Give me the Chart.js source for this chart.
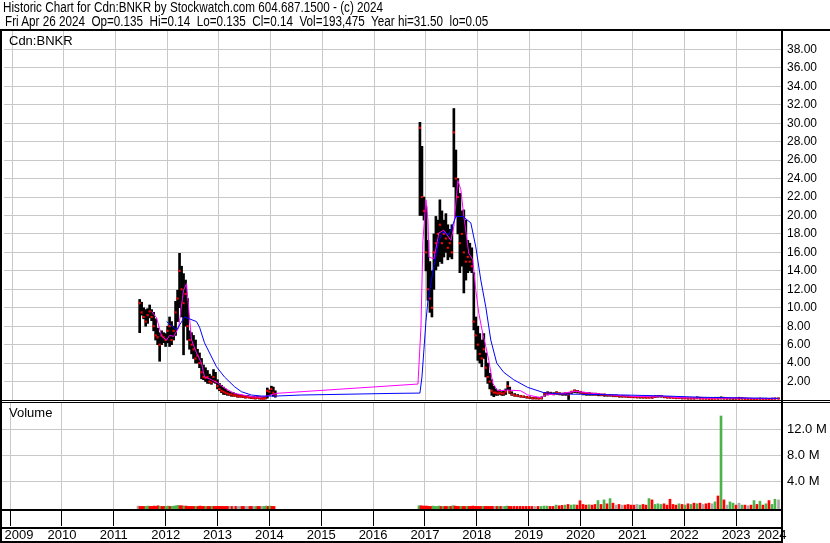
<!DOCTYPE html>
<html><head><meta charset="utf-8">
<script src="https://cdn.jsdelivr.net/npm/chart.js@4/dist/chart.umd.min.js"></script>
<style>
html,body{margin:0;padding:0;background:#fff;}
#wrap{position:relative;width:830px;height:543px;overflow:hidden;background:#fff;}
canvas{position:absolute;left:0;top:0;}
.t{position:absolute;white-space:pre;color:#000;font-family:"Liberation Sans",Arial,sans-serif;}
.hd{font-size:14px;line-height:16px;left:3px;transform:scaleX(0.835);transform-origin:0 0;}
.lb{font-size:13px;line-height:15px;left:9px;}
.ln{position:absolute;background:#000;}
</style></head><body>
<div id="wrap">
<canvas id="pc" width="830" height="543"></canvas>
<canvas id="vc" width="830" height="543"></canvas>
<div class="t hd" style="top:-1px;">Historic Chart for Cdn:BNKR by Stockwatch.com 604.687.1500 - (c) 2024</div>
<div class="t hd" style="top:13px;left:5px;">Fri Apr 26 2024  Op=0.135  Hi=0.14  Lo=0.135  Cl=0.14  Vol=193,475  Year hi=31.50  lo=0.05</div>
<div class="t lb" style="top:33px;">Cdn:BNKR</div>
<div class="t lb" style="top:405px;">Volume</div>
<div class="ln" style="left:0;top:29px;width:830px;height:2px;"></div>
<div class="ln" style="left:0;top:29px;width:2px;height:514px;"></div>
<div class="ln" style="left:781px;top:29px;width:2px;height:514px;"></div>
<div class="ln" style="left:0;top:400px;width:830px;height:1px;"></div>
<div class="ln" style="left:0;top:402px;width:830px;height:1px;"></div>
<div class="ln" style="left:0;top:509px;width:783px;height:2px;"></div>
<div class="ln" style="left:0;top:527px;width:783px;height:2px;"></div>
<div class="ln" style="left:0;top:541px;width:783px;height:2px;"></div>
</div>
<script>
// ---- data (dates in decimal years, prices in C$, volume in millions) ----
const DATES = [
2011.967,2012.005,2012.044,2012.083,2012.121,2012.160,2012.198,2012.237,2012.275,2012.314,
2012.353,2012.391,2012.430,2012.468,2012.507,2012.545,2012.584,2012.623,2012.661,2012.700,
2012.738,2012.777,2012.815,2012.854,2012.893,2012.931,2012.970,2013.008,2013.047,2013.085,
2013.124,2013.163,2013.201,2013.240,2013.278,2013.317,2013.355,2013.394,2013.433,2013.471,
2013.510,2013.548,2013.587,2013.625,2013.664,2013.703,2013.741,2013.780,2013.818,2013.857,
2013.895,2013.934,2013.973,2014.011,2014.050,2014.088,2014.127,2014.165,2014.204,2014.243,
2014.281,2014.320,2014.358,2014.397,2014.435,2014.474,2014.513,2014.551,2014.590,
2017.385,2017.424,2017.463,2017.501,2017.540,2017.578,2017.617,2017.655,2017.694,2017.733,
2017.771,2017.810,2017.848,2017.887,2017.925,2017.964,2018.003,2018.041,2018.080,2018.118,
2018.157,2018.195,2018.234,2018.273,2018.311,2018.350,2018.388,2018.427,2018.465,2018.504,
2018.543,2018.581,2018.620,2018.658,2018.697,2018.735,2018.774,2018.813,2018.851,2018.890,
2018.928,2018.967,2019.005,2019.044,2019.083,2019.121,2019.160,
2019.217,2019.275,2019.333,2019.391,2019.449,2019.507,2019.564,2019.622,2019.680,2019.738,
2019.796,2019.854,2019.912,2019.970,2020.027,2020.085,2020.143,2020.201,2020.259,2020.317,
2020.375,2020.432,2020.490,2020.548,2020.606,2020.664,2020.721,2020.779,2020.837,2020.895,
2020.953,2021.011,2021.069,2021.126,2021.184,2021.242,2021.300,2021.358,2021.416,2021.473,
2021.531,2021.589,2021.647,2021.705,2021.763,2021.820,2021.878,2021.936,2021.994,2022.052,
2022.110,2022.168,2022.225,2022.283,2022.341,2022.399,2022.457,2022.514,2022.572,2022.630,
2022.688,2022.746,2022.804,2022.861,2022.919,2022.977,2023.035,2023.093,2023.151,2023.209,
2023.266,2023.324,2023.382,2023.440,2023.498,2023.556,2023.613,2023.671,2023.729,2023.787,
2023.845,2023.902,2023.960,2024.018,2024.076,2024.134,2024.192,2024.249,2024.318];
const HIGH = [
10.9,10.6,10.0,9.8,9.9,10.3,9.8,9.5,8.8,7.8,
7.3,7.5,7.3,7.2,8.0,9.0,8.5,8.0,10.7,11.9,
15.9,14.5,13.7,13.0,11.0,7.5,7.3,7.0,6.5,5.5,
5.1,4.5,3.8,3.5,3.2,2.8,2.6,3.3,3.0,2.2,
1.8,1.6,1.4,1.2,1.0,0.9,0.8,0.8,0.7,0.6,
0.6,0.55,0.5,0.45,0.5,0.45,0.4,0.4,0.35,0.4,
0.35,0.35,0.3,0.4,1.3,1.1,1.5,1.4,1.0,
30.1,27.5,22.0,21.0,17.3,15.0,14.0,18.0,19.9,19.5,
21.7,20.5,19.5,20.2,19.0,18.5,19.0,31.6,27.1,24.0,
22.4,20.5,20.6,19.5,17.3,17.0,16.5,13.8,9.0,8.0,
7.2,6.5,7.2,5.1,4.0,2.9,2.2,1.5,1.2,1.0,
1.1,0.9,1.0,1.2,2.0,1.4,0.9,
0.7,0.6,0.5,0.45,0.4,0.35,0.3,0.3,0.3,0.35,
0.8,0.9,0.85,0.8,0.9,0.8,0.75,0.8,0.8,0.95,
1.1,1.05,0.95,0.85,0.8,0.8,0.75,0.75,0.7,0.65,
0.65,0.6,0.6,0.55,0.55,0.5,0.5,0.45,0.45,0.4,
0.4,0.38,0.4,0.35,0.35,0.35,0.4,0.45,0.5,0.5,
0.4,0.35,0.35,0.3,0.3,0.3,0.28,0.28,0.25,0.25,
0.25,0.35,0.3,0.25,0.25,0.22,0.25,0.3,0.3,0.35,
0.3,0.25,0.22,0.2,0.25,0.3,0.28,0.22,0.2,0.2,
0.18,0.2,0.22,0.2,0.2,0.18,0.2,0.22,0.2];
const LOW = [
7.3,9.2,8.8,8.0,8.3,8.9,8.6,7.5,6.5,6.0,
4.2,6.0,6.2,5.8,6.2,5.8,6.0,6.5,7.0,8.5,
10.0,9.0,4.9,8.0,6.5,5.5,5.0,4.5,4.0,4.0,
3.5,2.3,2.2,2.0,1.8,1.8,1.7,1.9,1.8,1.2,
1.0,0.8,0.6,0.6,0.5,0.5,0.4,0.4,0.4,0.3,
0.3,0.3,0.25,0.2,0.25,0.2,0.15,0.15,0.1,0.15,
0.1,0.1,0.1,0.1,0.2,0.5,0.6,0.4,0.3,
20.0,20.0,19.5,14.0,10.8,9.5,9.0,12.0,14.1,14.5,
15.0,14.8,15.5,16.0,15.2,15.5,15.3,23.1,19.9,18.0,
13.8,14.5,11.6,13.0,13.8,14.0,13.8,7.6,5.5,4.3,
4.0,3.6,4.5,2.5,1.8,1.2,0.5,0.36,0.5,0.5,
0.6,0.5,0.5,0.6,1.1,0.7,0.5,
0.4,0.35,0.3,0.25,0.2,0.15,0.1,0.1,0.1,0.1,
0.4,0.55,0.6,0.55,0.6,0.55,0.5,0.5,0.05,0.7,
0.8,0.75,0.7,0.55,0.5,0.5,0.5,0.5,0.45,0.45,
0.4,0.4,0.4,0.35,0.35,0.3,0.3,0.3,0.25,0.25,
0.25,0.22,0.2,0.2,0.2,0.2,0.2,0.25,0.3,0.3,
0.25,0.2,0.2,0.18,0.15,0.15,0.12,0.12,0.1,0.1,
0.1,0.12,0.1,0.1,0.1,0.08,0.08,0.1,0.1,0.1,
0.1,0.08,0.08,0.06,0.08,0.1,0.1,0.07,0.06,0.06,
0.05,0.06,0.08,0.07,0.06,0.06,0.08,0.1,0.12];
const CLOSE = [
10.5,9.5,9.0,8.5,9.2,9.6,9.0,8.0,7.0,6.8,
6.0,7.0,6.8,6.5,7.5,8.0,6.5,7.5,9.5,11.0,
14.0,12.0,10.5,11.5,8.0,6.5,6.0,5.5,4.5,4.8,
4.0,3.0,2.5,2.4,2.5,2.0,1.9,2.5,2.0,1.5,
1.2,1.0,0.9,0.8,0.7,0.6,0.6,0.5,0.5,0.4,
0.4,0.4,0.35,0.3,0.3,0.3,0.25,0.2,0.2,0.25,
0.2,0.15,0.15,0.2,1.0,0.9,1.2,0.8,0.5,
29.5,22.0,20.5,16.0,12.0,11.0,10.0,16.0,17.0,18.0,
19.0,17.0,18.0,17.5,16.5,17.0,16.0,29.0,24.0,22.0,
17.0,18.0,16.0,15.0,15.5,15.0,14.5,8.5,7.0,6.0,
5.0,4.5,5.5,3.5,2.5,2.0,1.0,0.8,0.8,0.7,
0.8,0.7,0.7,0.9,1.5,0.9,0.6,
0.5,0.45,0.4,0.35,0.3,0.25,0.2,0.2,0.15,0.2,
0.7,0.75,0.7,0.65,0.8,0.7,0.65,0.7,0.6,0.9,
1.0,0.95,0.8,0.7,0.65,0.7,0.65,0.6,0.62,0.55,
0.58,0.5,0.52,0.45,0.45,0.4,0.4,0.38,0.35,0.32,
0.3,0.3,0.31,0.28,0.25,0.27,0.24,0.35,0.4,0.42,
0.3,0.28,0.25,0.22,0.2,0.21,0.18,0.19,0.15,0.16,
0.15,0.2,0.15,0.15,0.14,0.12,0.12,0.15,0.13,0.2,
0.15,0.15,0.16,0.17,0.12,0.12,0.15,0.1,0.1,0.09,
0.11,0.1,0.12,0.1,0.11,0.1,0.12,0.14,0.14];
const VOLUME = [
0.15,0.1,0.1,0.1,0.1,0.15,0.1,0.1,0.15,0.1,
0.2,0.1,0.1,0.1,0.1,0.15,0.1,0.1,0.15,0.2,
0.25,0.2,0.2,0.15,0.15,0.1,0.1,0.1,0.1,0.1,
0.1,0.15,0.1,0.1,0.1,0.1,0.1,0.1,0.1,0.1,
0.1,0.1,0.1,0.1,0.1,0.1,0.1,0.1,0.1,0.1,
0.1,0.1,0.1,0.1,0.1,0.1,0.1,0.1,0.1,0.1,
0.1,0.1,0.1,0.1,0.15,0.1,0.15,0.1,0.1,
0.2,0.2,0.15,0.15,0.15,0.1,0.1,0.15,0.1,0.1,
0.15,0.1,0.1,0.1,0.1,0.1,0.1,0.2,0.15,0.1,
0.1,0.1,0.1,0.1,0.1,0.1,0.1,0.15,0.1,0.1,
0.1,0.1,0.1,0.1,0.1,0.1,0.1,0.1,0.1,0.1,
0.1,0.1,0.1,0.1,0.15,0.1,0.1,
0.1,0.1,0.1,0.1,0.1,0.1,0.1,0.1,0.1,0.1,
0.15,0.15,0.1,0.1,0.3,0.2,0.25,0.3,0.4,0.3,
0.35,0.3,0.97,0.4,0.3,0.35,0.3,0.4,1.0,0.4,
1.1,0.5,1.3,0.6,0.3,0.4,0.3,0.3,0.4,0.3,
0.3,0.4,0.3,0.4,0.3,1.3,1.1,0.4,0.5,0.4,
0.5,0.3,1.2,0.4,0.3,0.5,0.4,0.3,0.5,0.4,
0.6,0.5,0.6,0.4,0.5,0.6,0.5,0.8,1.7,14.0,
1.1,0.3,0.8,0.6,0.3,0.6,0.3,0.3,0.2,0.3,
1.0,0.4,0.9,0.3,0.5,1.0,0.4,1.2,1.1];
// short moving average (magenta)
const MA_SHORT_DATES = [2012.198,2012.295,2012.391,2012.488,2012.545,2012.623,2012.719,2012.815,2012.873,2012.912,
2012.970,2013.066,2013.162,2013.220,2013.355,2013.490,2013.606,2013.799,2014.127,2014.319,2014.474,2014.609,
2017.347,2017.405,2017.443,2017.501,2017.540,2017.559,2017.655,2017.752,2017.848,2017.983,2018.041,2018.118,
2018.176,2018.234,2018.330,2018.407,2018.465,2018.523,2018.600,2018.658,2018.716,2018.793,2018.890,2019.082,
2019.333,2019.468,2019.719,2019.815,2020.104,2020.394,2020.683,2021.068,2021.454,2021.936,2022.033,2022.418,
2022.804,2023.190,2023.575,2023.961,2024.318];
const MA_SHORT = [9.6,8.9,6.9,6.5,7.0,6.9,7.8,11.9,12.6,10.1,
6.5,5.1,4.0,2.5,2.2,1.8,1.3,0.72,0.36,0.3,0.5,0.72,
1.73,7.9,17.3,21.7,19.5,15.5,15.3,18.1,18.4,17.3,18.8,23.8,
22.8,19.9,15.9,15.2,11.9,9.4,7.2,5.8,4.3,1.8,1.0,1.08,
1.0,0.55,0.25,0.55,0.7,0.95,0.75,0.55,0.4,0.35,0.42,0.25,
0.2,0.2,0.22,0.15,0.15];
// long moving average (blue)
const MA_LONG_DATES = [2012.488,2012.680,2012.835,2013.066,2013.124,2013.220,2013.452,2013.606,2013.799,2013.934,
2014.127,2014.319,2014.609,2015.091,2016.923,2017.385,2017.424,2017.463,2017.501,2017.540,2017.655,2017.752,
2017.829,2017.945,2018.022,2018.080,2018.215,2018.369,2018.465,2018.562,2018.658,2018.755,2018.870,2019.005,
2019.198,2019.468,2019.777,2020.104,2020.490,2021.261,2022.033,2022.804,2023.575,2024.318];
const MA_LONG = [8.5,7.6,9.0,8.5,7.9,6.2,3.6,2.5,1.45,0.9,
0.54,0.43,0.43,0.54,0.72,0.75,2.5,5.5,8.5,10.8,14.5,17.3,
18.2,17.9,19.0,19.9,19.9,19.2,16.6,13.0,10.1,6.5,4.0,3.0,
2.2,1.37,0.8,0.65,0.62,0.55,0.45,0.3,0.22,0.18];
// axes
const YEAR_LABELS = ['2009','2010','2011','2012','2013','2014','2015','2016','2017','2018','2019','2020','2021','2022','2023','2024'];
const YEAR_LINES = [2010,2011,2012,2013,2014,2015,2016,2017,2018,2019,2020,2021,2022,2023,2024];
const PRICE_TICKS = [2,4,6,8,10,12,14,16,18,20,22,24,26,28,30,32,34,36,38];
const VOL_TICKS = [4,8,12];
const X_MIN = 2009.344, X_MAX = 2024.385;
const PRICE_MIN = 0, PRICE_MAX = 40;
const VOL_MIN = -0.3, VOL_MAX = 16;

const GRID = '#c8c8c8';
const FONT = '"Liberation Sans", Arial, sans-serif';

const xy = (ds, vs) => ds.map((d, i) => ({x: d, y: vs[i]}));

new Chart(document.getElementById('pc'), {
  type: 'bar',
  data: { datasets: [
    { type: 'line', data: xy(MA_LONG_DATES, MA_LONG), borderColor: '#0000ff', borderWidth: 1, pointRadius: 0, tension: 0, order: 0 },
    { type: 'line', data: xy(MA_SHORT_DATES, MA_SHORT), borderColor: '#ff00ff', borderWidth: 1, pointRadius: 0, tension: 0, order: 1 },
    { type: 'line', data: xy(DATES, CLOSE), showLine: false, pointStyle: 'rect', pointRadius: 1.5, pointBorderWidth: 0, pointBackgroundColor: '#ff0000', order: 2 },
    { type: 'bar', data: DATES.map((d, i) => ({x: d, y: [LOW[i], HIGH[i]]})), backgroundColor: '#000000', barThickness: 2, minBarLength: 1, grouped: false, order: 3 }
  ]},
  options: {
    responsive: false, animation: false, events: [],
    layout: { padding: { top: 31, left: 2, right: 0, bottom: 143 } },
    plugins: { legend: { display: false }, tooltip: { enabled: false } },
    scales: {
      x: { type: 'linear', min: X_MIN, max: X_MAX, offset: false,
           afterBuildTicks: s => { s.ticks = YEAR_LINES.map(v => ({value: v})); },
           ticks: { display: false }, grid: { color: GRID, drawTicks: false }, border: { display: false },
           afterFit: s => { s.height = 0; } },
      y: { position: 'right', min: PRICE_MIN, max: PRICE_MAX,
           afterBuildTicks: s => { s.ticks = PRICE_TICKS.map(v => ({value: v})); },
           ticks: { padding: 5, color: '#000', font: { family: FONT, size: 12 }, callback: v => Number(v).toFixed(2) },
           grid: { color: GRID, drawTicks: false }, border: { display: false },
           afterFit: s => { s.width = 48; } }
    }
  }
});

const volColors = CLOSE.map((c, i) => i === 0 || c === CLOSE[i - 1] ? '#a8a8a8' : (c > CLOSE[i - 1] ? '#4cb34c' : '#ff0000'));

new Chart(document.getElementById('vc'), {
  type: 'bar',
  data: { datasets: [
    { type: 'bar', data: xy(DATES, VOLUME), backgroundColor: volColors, barThickness: 2, base: VOL_MIN, grouped: false, xAxisID: 'x', yAxisID: 'y' }
  ]},
  options: {
    responsive: false, animation: false, events: [],
    layout: { padding: { top: 403, left: 2, right: 0, bottom: 1 } },
    plugins: { legend: { display: false }, tooltip: { enabled: false } },
    scales: {
      x: { type: 'linear', position: 'bottom', weight: 0, min: X_MIN, max: X_MAX, offset: false,
           afterBuildTicks: s => { s.ticks = YEAR_LINES.map(v => ({value: v})); },
           ticks: { display: false },
           grid: { color: GRID, tickColor: '#000', drawTicks: true, tickLength: 17 }, border: { display: false },
           afterFit: s => { s.height = 18; } },
      xl: { type: 'linear', position: 'bottom', weight: 1, min: X_MIN, max: X_MAX, offset: false,
            afterBuildTicks: s => { s.ticks = YEAR_LABELS.map(y => { const a = Math.max(+y, X_MIN), b = Math.min(+y + 1, X_MAX); return {value: (a + b) / 2}; }); },
            ticks: { autoSkip: false, maxRotation: 0, minRotation: 0, padding: 1, color: '#000', font: { family: FONT, size: 13 },
                     callback: (v, i) => YEAR_LABELS[i] },
            grid: { display: false, drawTicks: false }, border: { display: false },
            afterFit: s => { s.height = 15; } },
      y: { position: 'right', min: VOL_MIN, max: VOL_MAX,
           afterBuildTicks: s => { s.ticks = VOL_TICKS.map(v => ({value: v})); },
           ticks: { padding: 5, color: '#000', font: { family: FONT, size: 13 }, callback: v => Number(v).toFixed(1) + ' M' },
           grid: { color: GRID, drawTicks: false }, border: { display: false },
           afterFit: s => { s.width = 48; } }
    }
  }
});
</script>
</body></html>
